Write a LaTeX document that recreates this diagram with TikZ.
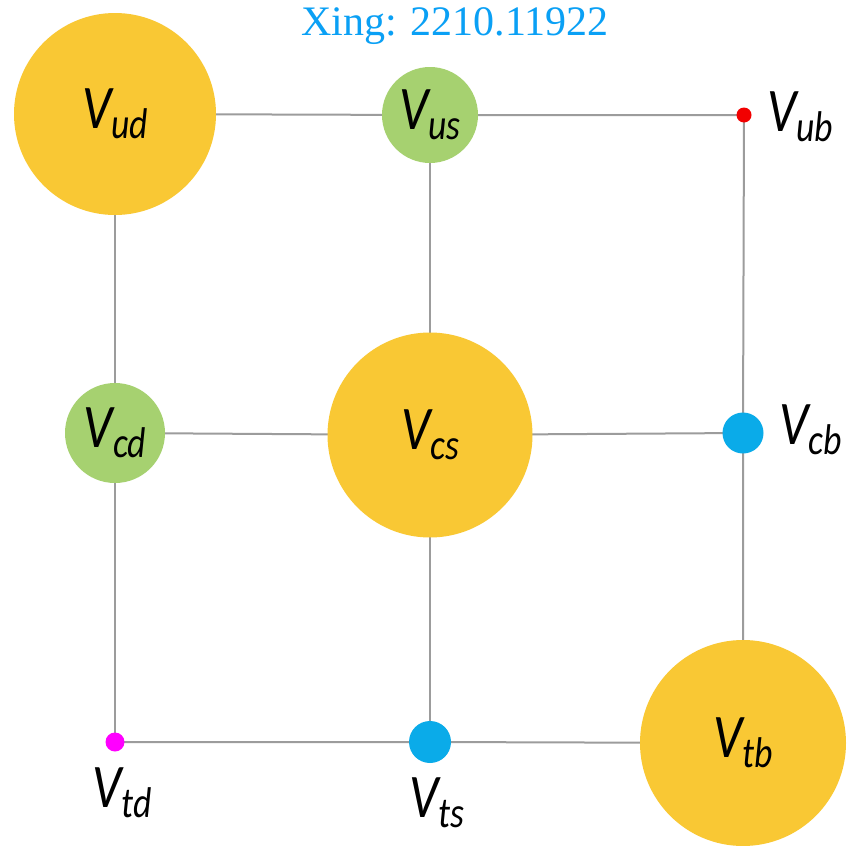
\documentclass[tikz,border=0pt]{standalone}
\usepackage{fontspec}
\setmainfont{Liberation Serif}
\newfontfamily\labfont{Carlito}
\definecolor{bigc}{HTML}{F9C834}
\definecolor{midc}{HTML}{A6D170}
\definecolor{bluec}{HTML}{0AABE9}
\definecolor{redc}{HTML}{F20000}
\definecolor{magc}{HTML}{FF00FF}
\definecolor{gridc}{HTML}{9C9C9C}
\definecolor{titlec}{HTML}{0AA0F5}
% CKM element label: large italic V with a lowered subscript, set a little narrow
\newcommand\ckmlab[1]{\scalebox{0.83}[1]{{\labfont\itshape\fontsize{62}{62}\selectfont V}\raisebox{-10pt}{\labfont\itshape\fontsize{43}{43}\selectfont #1}}}
\tikzset{
  elem/.style={circle, draw=none, inner sep=0pt, text=black},
  link/.style={draw=gridc, line width=2pt},
  side/.style={inner sep=0pt, text=black}
}
\begin{document}
\begin{tikzpicture}[x=1pt,y=-1pt]
\useasboundingbox (0,0) rectangle (847,846);
\fill[white] (0,0) rectangle (847,846);
% grid positions
\coordinate (pud) at (115,114);
\coordinate (pus) at (430,115);
\coordinate (pub) at (744,115);
\coordinate (pcd) at (115,433);
\coordinate (pcs) at (430,435);
\coordinate (pcb) at (743,433);
\coordinate (ptd) at (115,742);
\coordinate (pts) at (430,742);
\coordinate (ptb) at (743,743);
% connectors
\draw[link] (pud) -- (pus) -- (pub);
\draw[link] (pcd) -- (pcs) -- (pcb);
\draw[link] (ptd) -- (pts) -- (ptb);
\draw[link] (pud) -- (pcd) -- (ptd);
\draw[link] (pus) -- (pcs) -- (pts);
\draw[link] (pub) -- (pcb) -- (ptb);
% matrix elements
\node[elem, fill=bigc, minimum size=202pt] (ud) at (pud) {\ckmlab{ud}};
\node[elem, fill=midc, minimum size=96pt] (us) at (pus) {\ckmlab{us}};
\node[elem, fill=redc, minimum size=15pt] (ub) at (pub) {};
\node[elem, fill=midc, minimum size=100pt] (cd) at (pcd) {\ckmlab{cd}};
\node[elem, fill=bigc, minimum size=205pt] (cs) at (pcs) {\ckmlab{cs}};
\node[elem, fill=bluec, minimum size=41pt] (cb) at (pcb) {};
\node[elem, fill=magc, minimum size=19pt] (td) at (ptd) {};
\node[elem, fill=bluec, minimum size=42pt] (ts) at (pts) {};
\node[elem, fill=bigc, minimum size=206pt] (tb) at (ptb) {\ckmlab{tb}};
% labels beside the small elements
\node[side, anchor=west] (lub) at (767,117) {\ckmlab{ub}};
\node[side, anchor=west] (lcb) at (779,430) {\ckmlab{cb}};
\node[side, anchor=north] (ltd) at (122,768) {\ckmlab{td}};
\node[side, anchor=north] (lts) at (437,778) {\ckmlab{ts}};
% title
\node[text=titlec, font=\fontsize{42}{42}\selectfont, inner sep=0pt] (title) at (455,26) {Xing: 2210.11922};
\end{tikzpicture}
\end{document}
